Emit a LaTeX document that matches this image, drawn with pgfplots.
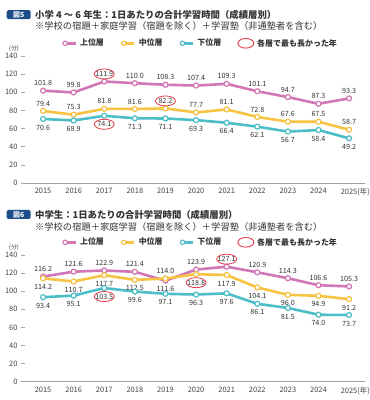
\documentclass[border=0pt]{standalone}
\usepackage{fontspec}
\setmainfont{Noto Sans CJK JP}
\usepackage{pgfplots}
\pgfplotsset{compat=1.18}
\usepackage{pgfplotstable}
\usetikzlibrary{shapes.geometric}
\definecolor{cpink}{HTML}{D276B5}
\definecolor{cyel}{HTML}{F6C343}
\definecolor{cteal}{HTML}{4DBDC8}
\definecolor{cred}{HTML}{E8394A}
\definecolor{cnavy}{HTML}{1E4D87}
\definecolor{ctext}{HTML}{333333}
\definecolor{ctick}{HTML}{444444}

\pgfplotstableread{
x pk pkp ye yep te tep
2015 101.8 7.5 79.4 7.5 70.6 -8.5
2016 99.8 7.5 75.3 7.5 68.9 -8.5
2017 111.9 7.5 81.8 7.5 74.1 -8.5
2018 110.0 7.5 81.6 7.5 71.3 -8.5
2019 108.3 7.5 82.2 7.5 71.1 -8.5
2020 107.4 7.5 77.7 7.5 69.3 -8.5
2021 109.3 7.5 81.1 7.5 66.4 -8.5
2022 101.1 7.5 72.8 7.5 62.1 -8.5
2023 94.7 7.5 67.6 7.5 56.7 -8.5
2024 87.3 7.5 67.5 7.5 58.4 -8.5
2025 93.3 7.5 58.7 7.5 49.2 -8.5
}\dataA

\pgfplotstableread{
x pk pkp ye yep te tep
2015 116.2 7.5 114.2 -8.5 93.4 -8.5
2016 121.6 7.5 110.7 -8.5 95.1 -8.5
2017 122.9 7.5 117.7 -8.5 103.5 -8.5
2018 121.4 7.5 112.5 -8.5 99.6 -8.5
2019 111.6 -8.5 114.0 7.5 97.1 -8.5
2020 123.9 7.5 118.8 -8.5 96.3 -8.5
2021 127.1 7.5 117.9 -8.5 97.6 -8.5
2022 120.9 7.5 104.1 -8.5 86.1 -8.5
2023 114.3 7.5 96.0 -8.5 81.5 -8.5
2024 106.6 7.5 94.9 -8.5 74.0 -8.5
2025 105.3 7.5 91.2 -8.5 73.7 -8.5
}\dataB

\pgfplotsset{
  /pgf/number format/assume math mode=true,
  ser/.style={color=#1, line width=2.6bp, mark=*, mark size=2.5bp,
    mark options={fill=white, draw=#1, line width=1.2bp, solid}},
  lab/.style={nodes near coords={\pgfmathprintnumber[fixed,fixed zerofill,precision=1]{\pgfplotspointmeta}},
    point meta=explicit,
    visualization depends on={\thisrow{#1}\as\pp},
    nodes near coords style={font=\fontsize{7.2}{7.2}\selectfont, text=ctext, anchor=center, yshift=\pp bp, inner sep=0pt}},
  legimg/.style={legend image code/.code={
    \draw[#1, line width=2.8bp] (0bp,0bp)--(13bp,0bp);
    \draw[#1, fill=white, line width=1.1bp] (2.5bp,0bp) circle (2.2bp);}},
  circ/.style={draw=none, mark=none, forget plot, nodes near coords={},
    nodes near coords style={ellipse, draw=cred, line width=0.8bp, minimum width=20bp,
      minimum height=10bp, inner sep=0pt, anchor=center, yshift=#1bp}},
  base/.style={
    scale only axis, width=340bp,
    xmin=2014.41, xmax=2025.52, ymin=0, ymax=140,
    clip=false,
    axis x line*=bottom, axis y line*=left,
    x axis line style={draw=gray!75, line width=0.8bp, -},
    y axis line style={draw=none},
    xtick={2015,2016,2017,2018,2019,2020,2021,2022,2023,2024,2025},
    xticklabels={2015,2016,2017,2018,2019,2020,2021,2022,2023,2024,2025\rlap{(年)}},
    ytick={0,20,...,140},
    tick align=outside, major tick length=4bp,
    x tick style={draw=none},
    y tick style={draw=gray!70, line width=0.6bp},
    tick label style={font=\fontsize{7.5}{8}\selectfont, text=ctick},
    xticklabel style={yshift=2bp},
    legend columns=4,
    legend style={at={(0.515,1)}, anchor=center, yshift=12.7bp, draw=none, fill=none,
      font=\bfseries\fontsize{8}{8}\selectfont, text=ctext,
      /tikz/every even column/.append style={column sep=14bp},
      /tikz/every odd column/.append style={column sep=1bp}},
  },
}

\begin{document}
\begin{tikzpicture}
\useasboundingbox (0bp,0bp) rectangle (370bp,400bp);
\fill[white] (0bp,0bp) rectangle (370bp,400bp);

% ---------- Panel 1 ----------
\begin{axis}[base, height=127bp, at={(25bp,217bp)}, anchor=south west]
\addplot[ser=cpink, legimg=cpink, lab=pkp] table[x=x, y=pk, meta=pk]{\dataA};
\addlegendentry{上位層}
\addplot[ser=cyel, legimg=cyel, lab=yep] table[x=x, y=ye, meta=ye]{\dataA};
\addlegendentry{中位層}
\addplot[ser=cteal, legimg=cteal, lab=tep] table[x=x, y=te, meta=te]{\dataA};
\addlegendentry{下位層}
\addlegendimage{legend image code/.code={\draw[cred, line width=0.9bp] (8bp,0bp) ellipse (8bp and 4.8bp);}}
\addlegendentry{各層で最も長かった年}
\addplot[circ=7.5] coordinates {(2017,111.9)};
\addplot[circ=7.5] coordinates {(2019,82.2)};
\addplot[circ=-8.5] coordinates {(2017,74.1)};
\end{axis}

% ---------- Panel 2 ----------
\begin{axis}[base, height=126.7bp, at={(25bp,18.3bp)}, anchor=south west]
\addplot[ser=cpink, legimg=cpink, lab=pkp] table[x=x, y=pk, meta=pk]{\dataB};
\addlegendentry{上位層}
\addplot[ser=cyel, legimg=cyel, lab=yep] table[x=x, y=ye, meta=ye]{\dataB};
\addlegendentry{中位層}
\addplot[ser=cteal, legimg=cteal, lab=tep] table[x=x, y=te, meta=te]{\dataB};
\addlegendentry{下位層}
\addlegendimage{legend image code/.code={\draw[cred, line width=0.9bp] (8bp,0bp) ellipse (8bp and 4.8bp);}}
\addlegendentry{各層で最も長かった年}
\addplot[circ=7.5] coordinates {(2021,127.1)};
\addplot[circ=-8.5] coordinates {(2020,118.8)};
\addplot[circ=-8.5] coordinates {(2017,103.5)};
\end{axis}

% ---------- Titles ----------
\begin{scope}[x=1bp,y=1bp]
\node[fill=cnavy, rounded corners=1.5bp, text=white, font=\bfseries\fontsize{7}{7}\selectfont,
  minimum width=24bp, minimum height=9bp, inner sep=0pt] at (18.7,385.3) {図5};
\node[anchor=west, inner sep=0pt, text=ctext, font=\bfseries\fontsize{9.4}{10}\selectfont] at (35,385.3)
  {小学 4 〜 6 年生：1日あたりの合計学習時間（成績層別）};
\node[anchor=west, inner sep=0pt, text=ctext, font=\fontsize{9.3}{10}\selectfont] at (35,373.7)
  {※学校の宿題＋家庭学習（宿題を除く）＋学習塾（非通塾者を含む）};
\node[text=ctick, inner sep=0pt, font=\fontsize{6}{6}\selectfont] at (14,351.7) {(分)};

\node[fill=cnavy, rounded corners=1.5bp, text=white, font=\bfseries\fontsize{7}{7}\selectfont,
  minimum width=24bp, minimum height=9bp, inner sep=0pt] at (18.7,185.5) {図6};
\node[anchor=west, inner sep=0pt, text=ctext, font=\bfseries\fontsize{9.4}{10}\selectfont] at (35,185.5)
  {中学生：1日あたりの合計学習時間（成績層別）};
\node[anchor=west, inner sep=0pt, text=ctext, font=\fontsize{9.3}{10}\selectfont] at (35,173.5)
  {※学校の宿題＋家庭学習（宿題を除く）＋学習塾（非通塾者を含む）};
\node[text=ctick, inner sep=0pt, font=\fontsize{6}{6}\selectfont] at (14,152.7) {(分)};
\end{scope}
\end{tikzpicture}
\end{document}
